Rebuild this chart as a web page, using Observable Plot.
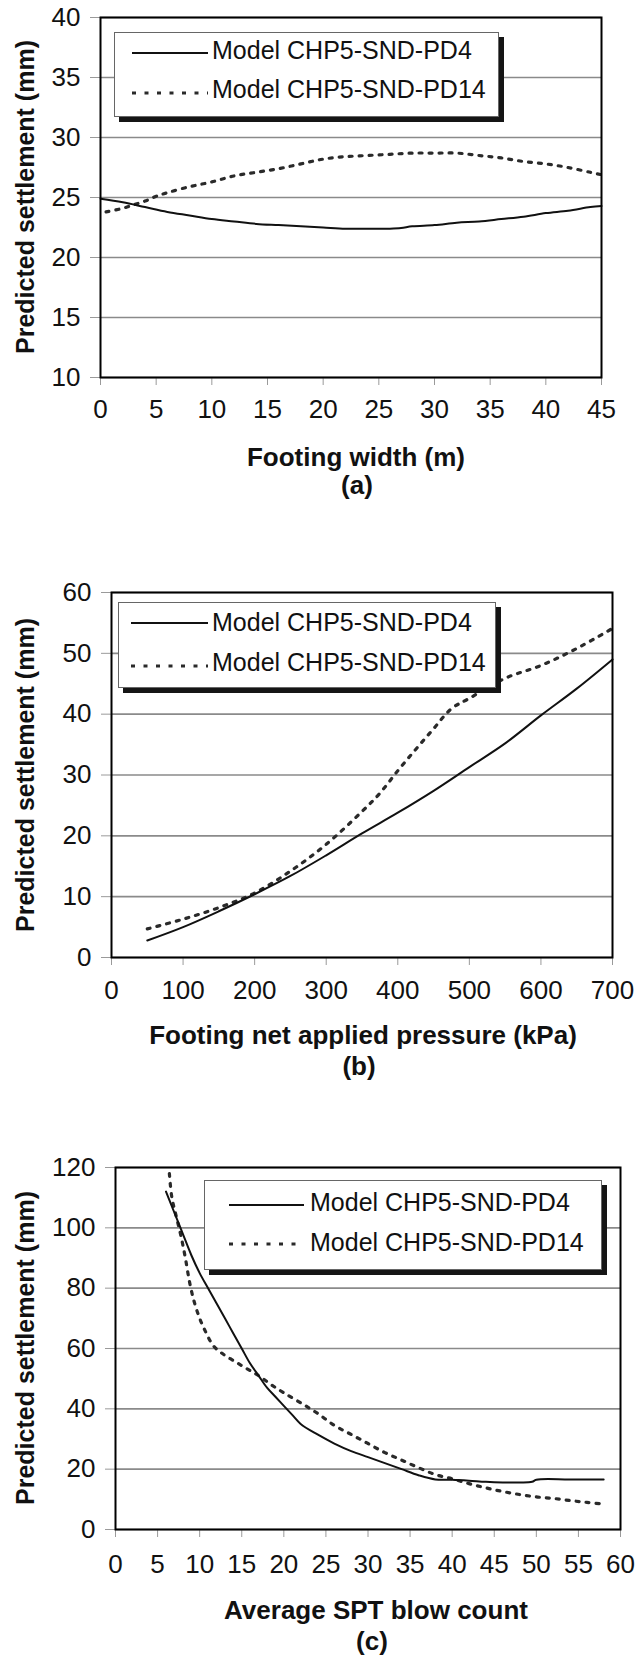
<!DOCTYPE html>
<html>
<head>
<meta charset="utf-8">
<script src="https://cdn.jsdelivr.net/npm/d3@7"></script>
<script src="https://cdn.jsdelivr.net/npm/@observablehq/plot@0.6"></script>
<style>
  html, body { margin: 0; padding: 0; background: #fff; }
  body { width: 637px; height: 1657px; position: relative; overflow: hidden;
         font-family: "Liberation Sans", Arial, Helvetica, sans-serif; color: #111; }
  .abs { position: absolute; white-space: nowrap; line-height: 1; }
  .title { font-weight: bold; font-size: 26px; transform: translate(-50%, -50%); }
  .ytitle { font-weight: bold; font-size: 25px; transform: translate(-50%, -50%) rotate(-90deg); }
  .legend { position: absolute; background: #fff; border: 1.5px solid #666; box-shadow: 5px 5px 0 #151515; box-sizing: border-box; }
  .legtext { position: absolute; white-space: nowrap; line-height: 1; font-size: 25px; transform: translateY(-50%); }
  .panel { position: absolute; left: 0; }
</style>
</head>
<body>
<script>
// ---------------- DATA ----------------
const seriesNames = ["Model CHP5-SND-PD4", "Model CHP5-SND-PD14"];

// (a) Footing width (m) vs predicted settlement (mm)
const widthTicks = [0, 5, 10, 15, 20, 25, 30, 35, 40, 45];
const widthSettleTicks = [10, 15, 20, 25, 30, 35, 40];
const widthPD4 = [[0,24.9],[2,24.6],[4,24.2],[6,23.8],[8,23.5],[10,23.2],[12,23.0],[14,22.8],[16,22.7],[18,22.6],[20,22.5],[22,22.4],[24,22.4],[26,22.4],[27,22.45],[28,22.6],[30,22.7],[32,22.9],[34,23.0],[36,23.2],[38,23.4],[40,23.7],[42,23.9],[44,24.2],[45,24.3]];
const widthPD14 = [[0.5,23.8],[2,24.1],[3,24.4],[4,24.7],[5,25.1],[6,25.4],[8,25.9],[10,26.3],[12,26.8],[14,27.1],[16,27.4],[18,27.8],[20,28.2],[22,28.4],[24,28.5],[26,28.6],[28,28.7],[30,28.7],[32,28.7],[34,28.5],[36,28.3],[38,28.0],[40,27.8],[42,27.5],[44,27.1],[45,26.9]];

// (b) Footing net applied pressure (kPa) vs predicted settlement (mm)
const pressureTicks = [0, 100, 200, 300, 400, 500, 600, 700];
const pressureSettleTicks = [0, 10, 20, 30, 40, 50, 60];
const pressurePD4 = [[50,2.8],[100,5.0],[150,7.6],[200,10.4],[250,13.4],[300,16.8],[350,20.4],[400,23.8],[450,27.4],[500,31.3],[550,35.2],[600,39.8],[650,44.2],[700,49.0]];
const pressurePD14 = [[50,4.7],[100,6.3],[150,8.2],[200,10.6],[250,14.2],[300,18.6],[350,24.0],[375,27.0],[400,30.7],[425,34.2],[450,37.6],[475,40.9],[500,42.6],[550,45.9],[600,48.0],[650,50.8],[700,54.1]];

// (c) Average SPT blow count vs predicted settlement (mm)
const sptTicks = [0, 5, 10, 15, 20, 25, 30, 35, 40, 45, 50, 55, 60];
const sptSettleTicks = [0, 20, 40, 60, 80, 100, 120];
const sptPD4 = [[6,112],[7,105],[8,98],[9,91],[10,85],[11,80],[12,75],[13,70],[14,65],[15,60],[16,55],[17,51],[18,47],[19,44],[20,41],[21,38],[22,35],[24,31.5],[26,28.5],[28,26],[30,24],[32,22],[34,20],[36,18],[38,16.6],[40,16.5],[42,16.2],[44,15.8],[46,15.6],[48,15.6],[49.5,15.8],[50,16.5],[54,16.6],[58,16.6]];
const sptPD14 = [[6.4,118],[6.7,110],[7.2,104],[7.8,97],[8.3,90],[8.8,82],[9.3,76],[10,70],[10.8,65],[11.6,61],[12.6,58.5],[14,56],[15.5,53.5],[17,51],[18.5,48],[20,45.3],[22,42],[24,38.5],[26,34.5],[28,31.5],[30,28.5],[32,25.5],[34,23],[36,20.5],[38,18.2],[40,16.8],[42,15.2],[44,13.8],[46,12.6],[48,11.6],[50,10.8],[52,10.3],[54,9.6],[56,9.0],[58,8.4]];

const xTitles = ["Footing width (m)", "Footing net applied pressure (kPa)", "Average SPT blow count"];
const panelTags = ["(a)", "(b)", "(c)"];
const yTitle = "Predicted settlement (mm)";

// ---------------- LAYOUT ----------------
const panels = [
  { top: 0,    h: 440, mT: 17, mB: 63, mL: 100, mR: 36, xt: widthTicks, yt: widthSettleTicks, s: widthPD4, d: widthPD14,
    xTitle: [356, 457], tag: [357, 485], xPad: 14,
    leg: { l: 114, t: 32, w: 385, h: 85, line: [132, 208], tx: 212, y1: 53, y2: 93, ty1: 50, ty2: 89 } },
  { top: 540,  h: 470, mT: 52, mB: 53, mL: 111, mR: 25, xt: pressureTicks, yt: pressureSettleTicks, s: pressurePD4, d: pressurePD14,
    xTitle: [363, 1035], tag: [359, 1066], xPad: 15,
    leg: { l: 118, t: 602, w: 378, h: 86, line: [131, 208], tx: 212, y1: 623, y2: 666, ty1: 622, ty2: 662 } },
  { top: 1120, h: 470, mT: 47, mB: 61, mL: 115, mR: 17, xt: sptTicks, yt: sptSettleTicks, s: sptPD4, d: sptPD14,
    xTitle: [376, 1610], tag: [372, 1641], xPad: 17,
    leg: { l: 204, t: 1180, w: 398, h: 90, line: [229, 304], tx: 310, y1: 1205, y2: 1244, ty1: 1202, ty2: 1242 } }
];

const FONT = '"Liberation Sans", Arial, Helvetica, sans-serif';

function addDiv(cls, text, x, y) {
  const el = document.createElement("div");
  el.className = "abs " + cls;
  el.textContent = text;
  el.style.left = x + "px";
  el.style.top = y + "px";
  document.body.appendChild(el);
  return el;
}

panels.forEach((p, i) => {
  const chart = Plot.plot({
    width: 637,
    height: p.h,
    marginTop: p.mT, marginBottom: p.mB, marginLeft: p.mL, marginRight: p.mR,
    x: { domain: [p.xt[0], p.xt[p.xt.length - 1]] },
    y: { domain: [p.yt[0], p.yt[p.yt.length - 1]] },
    style: { fontFamily: FONT, fontSize: "26px", color: "#111", background: "transparent", overflow: "visible" },
    marks: [
      Plot.gridY(p.yt, { stroke: "#8a8a8a", strokeOpacity: 1, strokeWidth: 1.6 }),
      Plot.axisY(p.yt, { tickSize: 10, tickPadding: 10, stroke: "#9a9a9a", fill: "#111", label: null, fontSize: 26 }),
      Plot.axisX(p.xt, { tickSize: 8, tickPadding: p.xPad, stroke: "#9a9a9a", fill: "#111", label: null, fontSize: 26 }),
      Plot.line(p.d, { x: d => d[0], y: d => d[1], stroke: "#2a2a2a", strokeWidth: 3.2, strokeDasharray: "3,7", curve: "catmull-rom" }),
      Plot.line(p.s, { x: d => d[0], y: d => d[1], stroke: "#111", strokeWidth: 2, curve: "catmull-rom" }),
      Plot.frame({ stroke: "#000", strokeWidth: 2 })
    ]
  });
  const wrap = document.createElement("div");
  wrap.className = "panel";
  wrap.style.top = p.top + "px";
  wrap.appendChild(chart);
  document.body.appendChild(wrap);

  // axis titles and tag
  addDiv("title", xTitles[i], p.xTitle[0], p.xTitle[1]);
  addDiv("title", panelTags[i], p.tag[0], p.tag[1]);
  const plotMidY = p.top + p.mT + (p.h - p.mT - p.mB) / 2;
  addDiv("ytitle", yTitle, 25, plotMidY);

  // legend
  const L = p.leg;
  const box = document.createElement("div");
  box.className = "legend";
  Object.assign(box.style, { left: L.l + "px", top: L.t + "px", width: L.w + "px", height: L.h + "px" });
  document.body.appendChild(box);

  const ns = "http://www.w3.org/2000/svg";
  const svg = document.createElementNS(ns, "svg");
  svg.setAttribute("width", 637);
  svg.setAttribute("height", 1657);
  svg.style.position = "absolute";
  svg.style.left = "0px";
  svg.style.top = "0px";
  svg.style.pointerEvents = "none";
  [[L.y1, null, "#111", 2.2], [L.y2, "4,8.5", "#2a2a2a", 3]].forEach(([yy, dash, col, sw]) => {
    const ln = document.createElementNS(ns, "line");
    ln.setAttribute("x1", L.line[0]); ln.setAttribute("x2", L.line[1]);
    ln.setAttribute("y1", yy); ln.setAttribute("y2", yy);
    ln.setAttribute("stroke", col); ln.setAttribute("stroke-width", sw);
    if (dash) ln.setAttribute("stroke-dasharray", dash);
    svg.appendChild(ln);
  });
  document.body.appendChild(svg);

  [[seriesNames[0], L.ty1], [seriesNames[1], L.ty2]].forEach(([t, yy]) => {
    const el = document.createElement("div");
    el.className = "legtext";
    el.textContent = t;
    el.style.left = L.tx + "px";
    el.style.top = yy + "px";
    document.body.appendChild(el);
  });
});
</script>
</body>
</html>
